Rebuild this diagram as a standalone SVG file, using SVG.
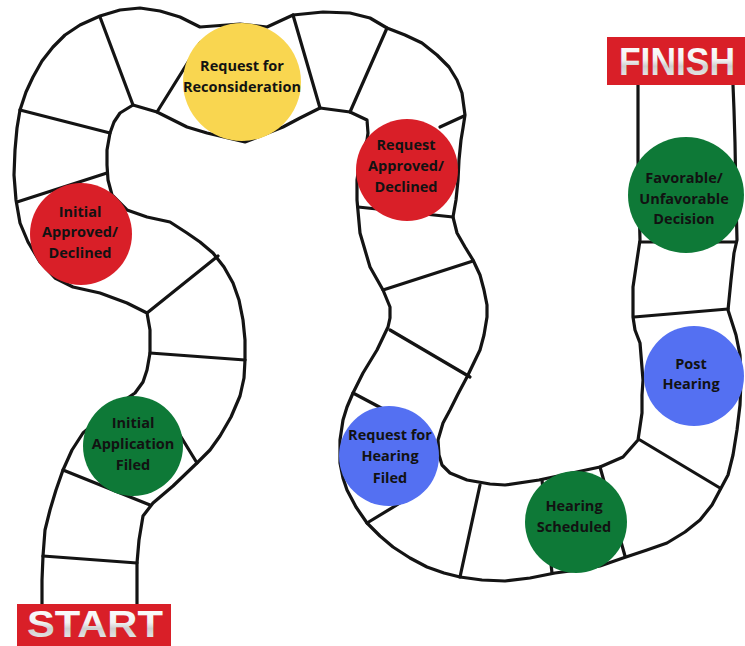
<svg xmlns="http://www.w3.org/2000/svg" width="745" height="646" viewBox="0 0 745 646">
<defs>
<style>
.wall{fill:none;stroke:#141414;stroke-width:3.2;stroke-linejoin:round;stroke-linecap:round}
.div{stroke:#141414;stroke-width:3.2;stroke-linecap:round}
.lbl{font-family:"Open Sans","DejaVu Sans",sans-serif;font-weight:700;font-size:14.5px;fill:#121212;text-anchor:middle}
.sign{font-family:"Liberation Sans",Arial,sans-serif;font-weight:700;text-anchor:middle;fill:url(#metal)}
.red{fill:#D91F28}
.yellow{fill:#F9D650}
.green{fill:#0E7937}
.blue{fill:#5470F2}
</style>
<linearGradient id="metal" x1="0" y1="0" x2="0" y2="1">
<stop offset="0" stop-color="#ffffff"/>
<stop offset="0.45" stop-color="#f2f2f2"/>
<stop offset="0.6" stop-color="#cfcfcf"/>
<stop offset="1" stop-color="#f4f4f4"/>
</linearGradient>
</defs>
<rect width="745" height="646" fill="#ffffff"/>
<g id="board">
<path class="wall" d="M42,604 L42,580 L43,556 L45,530 L50,510 L56,490 L63,470 L72,450 L83,433 L110,410 L135,393 L143,382 L147,370 L150,353 L150,330 L147,313 L127,303 L100,293 L73,287 L55,278 L40,262 L28,242 L20,223 L16,200 L14,175 L15,150 L17,128 L20,110 L26,92 L33,77 L42,61 L53,47 L65,35 L80,25 L100,16 L120,10 L140,8 L160,11 L180,17 L200,27 L240,24 L267,27 L293,15 L323,12 L350,13 L370,18 L387,28 L405,35 L422,43 L437,55 L449,67 L457,80 L462,93 L465,115 L463,128 L461,140 L459,160 L458,180 L456,200 L453,217 L457,233 L465,247 L473,260 L480,275 L484,290 L487,305 L487,317 L484,335 L480,350 L467,377 L458,394 L450,410 L443,423 L438,440 L439,455 L442,465 L450,473 L467,480 L490,484 L505,485 L539,480 L572,473 L600,467 L623,457 L638,440 L642,413 L642,395 L643,380 L640,343 L635,330 L633,317 L633,300 L633,287 L637,260 L640,240 L639,200 L638,160 L638,120 L638,85"/>
<path class="wall" d="M137,604 L137,585 L137,563 L139,540 L143,516 L153,503 L173,486 L197,463 L210,450 L220,436 L231,417 L240,396 L244,378 L245,360 L245,340 L243,320 L239,300 L233,283 L224,267 L213,253 L200,242 L187,233 L170,222 L147,217 L127,210 L112,195 L108,180 L107,165 L107,150 L110,133 L114,122 L120,113 L133,105 L157,112 L187,127 L207,133 L245,142 L283,127 L300,118 L320,108 L350,112 L367,120 L368,133 L367,140 L360,160 L357,180 L357,200 L360,233 L365,250 L370,267 L383,290 L390,307 L390,318 L388,327 L377,350 L363,373 L353,393 L347,407 L343,420 L340,440 L340,463 L343,478 L347,490 L356,507 L367,523 L380,536 L393,547 L410,558 L427,567 L444,573 L460,577 L482,580 L505,581 L530,578 L555,573 L578,570 L600,566 L623,558 L647,550 L667,543 L685,532 L700,520 L712,505 L720,490 L728,475 L733,455 L737,430 L740,405 L741,380 L740,355 L736,335 L728,310 L731,280 L734,253 L737,240 L736,200 L735,143 L734,110 L733,85"/>
<line class="div" x1="43" y1="556" x2="137" y2="563"/>
<line class="div" x1="63" y1="470" x2="150" y2="505"/>
<line class="div" x1="178" y1="432" x2="197" y2="463"/>
<line class="div" x1="150" y1="353" x2="245" y2="360"/>
<line class="div" x1="147" y1="313" x2="218" y2="256"/>
<line class="div" x1="17" y1="202" x2="107" y2="173"/>
<line class="div" x1="20" y1="110" x2="110" y2="133"/>
<line class="div" x1="100" y1="17" x2="133" y2="105"/>
<line class="div" x1="157" y1="112" x2="200" y2="43"/>
<line class="div" x1="293" y1="15" x2="320" y2="108"/>
<line class="div" x1="387" y1="28" x2="350" y2="112"/>
<line class="div" x1="440" y1="127" x2="464" y2="116"/>
<line class="div" x1="358" y1="207" x2="453" y2="217"/>
<line class="div" x1="383" y1="290" x2="473" y2="261"/>
<line class="div" x1="390" y1="330" x2="470" y2="377"/>
<line class="div" x1="353" y1="393" x2="385" y2="410"/>
<line class="div" x1="367" y1="523" x2="400" y2="503"/>
<line class="div" x1="480" y1="485" x2="460" y2="577"/>
<line class="div" x1="542" y1="480" x2="552" y2="573"/>
<line class="div" x1="600" y1="467" x2="625" y2="556"/>
<line class="div" x1="640" y1="440" x2="720" y2="488"/>
<line class="div" x1="634" y1="317" x2="728" y2="309"/>
<line class="div" x1="640" y1="242" x2="736" y2="242"/>
</g>
<g id="start">
<rect x="17" y="604" width="154" height="42" class="red"/>
<text class="sign" x="95" y="637" font-size="37" textLength="136" lengthAdjust="spacingAndGlyphs">START</text>
</g>
<g id="finish">
<rect x="607" y="37" width="138" height="48" class="red"/>
<text class="sign" x="677" y="75" font-size="38" textLength="116" lengthAdjust="spacingAndGlyphs">FINISH</text>
</g>
<g id="initial-application-filed">
<circle cx="133" cy="446" r="50" class="green"/>
<text class="lbl" x="133" y="428">Initial</text>
<text class="lbl" x="133" y="449">Application</text>
<text class="lbl" x="133" y="470">Filed</text>
</g>
<g id="initial-approved-declined">
<circle cx="81" cy="234" r="51" class="red"/>
<text class="lbl" x="80" y="217">Initial</text>
<text class="lbl" x="80" y="237">Approved/</text>
<text class="lbl" x="80" y="258">Declined</text>
</g>
<g id="request-for-reconsideration">
<circle cx="242" cy="82" r="59" class="yellow"/>
<text class="lbl" x="242" y="71">Request for</text>
<text class="lbl" x="242" y="92">Reconsideration</text>
</g>
<g id="request-approved-declined">
<circle cx="407" cy="170" r="51" class="red"/>
<text class="lbl" x="406" y="150">Request</text>
<text class="lbl" x="406" y="171">Approved/</text>
<text class="lbl" x="406" y="192">Declined</text>
</g>
<g id="request-for-hearing-filed">
<circle cx="389" cy="456" r="50" class="blue"/>
<text class="lbl" x="390" y="440">Request for</text>
<text class="lbl" x="390" y="461">Hearing</text>
<text class="lbl" x="390" y="483">Filed</text>
</g>
<g id="hearing-scheduled">
<circle cx="576" cy="522" r="51" class="green"/>
<text class="lbl" x="574" y="511">Hearing</text>
<text class="lbl" x="574" y="532">Scheduled</text>
</g>
<g id="post-hearing">
<circle cx="694" cy="376" r="50" class="blue"/>
<text class="lbl" x="691" y="369">Post</text>
<text class="lbl" x="691" y="389">Hearing</text>
</g>
<g id="favorable-unfavorable-decision">
<circle cx="686" cy="195" r="58" class="green"/>
<text class="lbl" x="684" y="183">Favorable/</text>
<text class="lbl" x="684" y="204">Unfavorable</text>
<text class="lbl" x="684" y="224">Decision</text>
</g>
</svg>
